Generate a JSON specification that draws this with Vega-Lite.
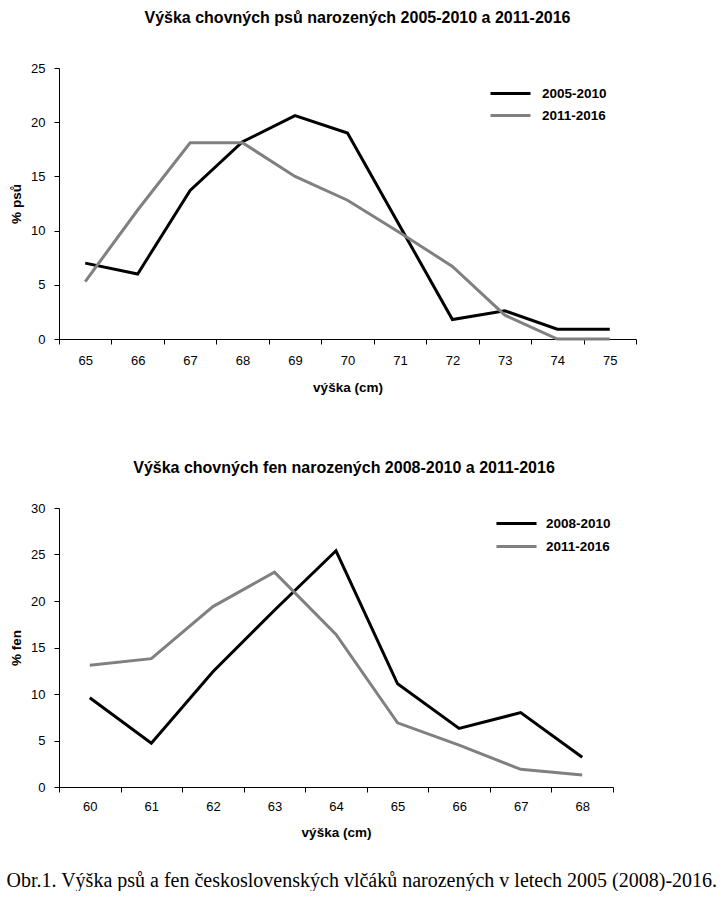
{
  "$schema": "https://vega.github.io/schema/vega-lite/v6.json",
  "background": "white",
  "padding": {"left": 6, "top": 10, "right": 0, "bottom": 0},
  "spacing": 66,
  "config": {
    "font": "Liberation Sans",
    "view": {"stroke": null},
    "axis": {
      "grid": false,
      "domainColor": "black",
      "domainWidth": 1,
      "tickColor": "black",
      "tickWidth": 1,
      "tickSize": 5,
      "labelColor": "black",
      "labelFont": "Liberation Sans",
      "labelFontSize": 13,
      "titleColor": "black",
      "titleFont": "Liberation Sans",
      "titleFontSize": 13.5,
      "titleFontWeight": "bold"
    },
    "legend": {
      "symbolStrokeWidth": 3,
      "labelFont": "Liberation Sans",
      "labelFontSize": 13.5,
      "labelFontWeight": "bold",
      "labelColor": "black",
      "rowPadding": 0,
      "padding": 0
    },
    "title": {"font": "Liberation Sans", "fontSize": 16, "fontWeight": "bold", "color": "black"}
  },
  "title": {
    "text": "Obr.1. Výška psů a fen československých vlčáků narozených v letech 2005 (2008)-2016.",
    "orient": "bottom",
    "anchor": "start",
    "frame": "bounds",
    "font": "Liberation Serif",
    "fontSize": 20,
    "fontWeight": "normal",
    "color": "black",
    "offset": 32,
    "dx": -3
  },
  "datasets": {
    "psi": [
      {"vyska": 65, "procento": 7.0, "obdobi": "2005-2010"},
      {"vyska": 66, "procento": 6.0, "obdobi": "2005-2010"},
      {"vyska": 67, "procento": 13.7, "obdobi": "2005-2010"},
      {"vyska": 68, "procento": 18.2, "obdobi": "2005-2010"},
      {"vyska": 69, "procento": 20.6, "obdobi": "2005-2010"},
      {"vyska": 70, "procento": 19.0, "obdobi": "2005-2010"},
      {"vyska": 71, "procento": 10.4, "obdobi": "2005-2010"},
      {"vyska": 72, "procento": 1.8, "obdobi": "2005-2010"},
      {"vyska": 73, "procento": 2.6, "obdobi": "2005-2010"},
      {"vyska": 74, "procento": 0.9, "obdobi": "2005-2010"},
      {"vyska": 75, "procento": 0.9, "obdobi": "2005-2010"},
      {"vyska": 65, "procento": 5.3, "obdobi": "2011-2016"},
      {"vyska": 66, "procento": 11.9, "obdobi": "2011-2016"},
      {"vyska": 67, "procento": 18.1, "obdobi": "2011-2016"},
      {"vyska": 68, "procento": 18.1, "obdobi": "2011-2016"},
      {"vyska": 69, "procento": 15.0, "obdobi": "2011-2016"},
      {"vyska": 70, "procento": 12.8, "obdobi": "2011-2016"},
      {"vyska": 71, "procento": 9.8, "obdobi": "2011-2016"},
      {"vyska": 72, "procento": 6.7, "obdobi": "2011-2016"},
      {"vyska": 73, "procento": 2.2, "obdobi": "2011-2016"},
      {"vyska": 74, "procento": 0.0, "obdobi": "2011-2016"},
      {"vyska": 75, "procento": 0.0, "obdobi": "2011-2016"}
    ],
    "feny": [
      {"vyska": 60, "procento": 9.6, "obdobi": "2008-2010"},
      {"vyska": 61, "procento": 4.7, "obdobi": "2008-2010"},
      {"vyska": 62, "procento": 12.4, "obdobi": "2008-2010"},
      {"vyska": 63, "procento": 19.0, "obdobi": "2008-2010"},
      {"vyska": 64, "procento": 25.4, "obdobi": "2008-2010"},
      {"vyska": 65, "procento": 11.1, "obdobi": "2008-2010"},
      {"vyska": 66, "procento": 6.3, "obdobi": "2008-2010"},
      {"vyska": 67, "procento": 8.0, "obdobi": "2008-2010"},
      {"vyska": 68, "procento": 3.2, "obdobi": "2008-2010"},
      {"vyska": 60, "procento": 13.1, "obdobi": "2011-2016"},
      {"vyska": 61, "procento": 13.8, "obdobi": "2011-2016"},
      {"vyska": 62, "procento": 19.4, "obdobi": "2011-2016"},
      {"vyska": 63, "procento": 23.1, "obdobi": "2011-2016"},
      {"vyska": 64, "procento": 16.4, "obdobi": "2011-2016"},
      {"vyska": 65, "procento": 6.9, "obdobi": "2011-2016"},
      {"vyska": 66, "procento": 4.5, "obdobi": "2011-2016"},
      {"vyska": 67, "procento": 1.9, "obdobi": "2011-2016"},
      {"vyska": 68, "procento": 1.3, "obdobi": "2011-2016"}
    ]
  },
  "vconcat": [
    {
      "width": 577,
      "height": 271,
      "title": {"text": "Výška chovných psů narozených 2005-2010 a 2011-2016", "dx": 10, "offset": 36},
      "data": {"name": "psi"},
      "mark": {"type": "line", "strokeWidth": 3},
      "encoding": {
        "x": {
          "field": "vyska",
          "type": "quantitative",
          "scale": {"domain": [64.5, 75.5], "nice": false, "zero": false},
          "axis": {
            "title": "výška (cm)",
            "values": [64.5, 65.5, 66.5, 67.5, 68.5, 69.5, 70.5, 71.5, 72.5, 73.5, 74.5, 75.5],
            "labelExpr": "datum.value < 75 ? format(datum.value + 0.5, 'd') : ''",
            "labelOffset": 26.2,
            "labelPadding": 10,
            "titlePadding": 13,
            "labelOverlap": false,
            "labelFlush": false,
            "labelBound": false
          }
        },
        "y": {
          "field": "procento",
          "type": "quantitative",
          "scale": {"domain": [0, 25], "nice": false},
          "axis": {"title": "% psů", "values": [0, 5, 10, 15, 20, 25], "labelPadding": 9, "titlePadding": 7}
        },
        "color": {
          "field": "obdobi",
          "type": "nominal",
          "scale": {"domain": ["2005-2010", "2011-2016"], "range": ["#000000", "#808080"]},
          "legend": {
            "title": null,
            "orient": "none",
            "legendX": 438.5,
            "legendY": 12.5,
            "symbolType": "M-1.74,0H1.74",
            "symbolSize": 529,
            "labelOffset": 18.5,
            "rowPadding": 2
          }
        }
      }
    },
    {
      "width": 554,
      "height": 279,
      "title": {"text": "Výška chovných fen narozených 2008-2010 a 2011-2016", "dx": 8, "offset": 26},
      "data": {"name": "feny"},
      "mark": {"type": "line", "strokeWidth": 3},
      "encoding": {
        "x": {
          "field": "vyska",
          "type": "quantitative",
          "scale": {"domain": [59.5, 68.5], "nice": false, "zero": false},
          "axis": {
            "title": "výška (cm)",
            "values": [59.5, 60.5, 61.5, 62.5, 63.5, 64.5, 65.5, 66.5, 67.5, 68.5],
            "labelExpr": "datum.value < 68 ? format(datum.value + 0.5, 'd') : ''",
            "labelOffset": 30.8,
            "labelPadding": 8,
            "titlePadding": 12,
            "labelOverlap": false,
            "labelFlush": false,
            "labelBound": false
          }
        },
        "y": {
          "field": "procento",
          "type": "quantitative",
          "scale": {"domain": [0, 30], "nice": false},
          "axis": {"title": "% fen", "values": [0, 5, 10, 15, 20, 25, 30], "labelPadding": 9, "titlePadding": 7}
        },
        "color": {
          "field": "obdobi",
          "type": "nominal",
          "scale": {"domain": ["2008-2010", "2011-2016"], "range": ["#000000", "#808080"]},
          "legend": {
            "title": null,
            "orient": "none",
            "legendX": 444,
            "legendY": 2,
            "symbolType": "M-1.67,0H1.67",
            "symbolSize": 576,
            "labelOffset": 16,
            "rowPadding": 3
          }
        }
      }
    }
  ],
  "resolve": {"scale": {"color": "independent"}, "legend": {"color": "independent"}}
}
